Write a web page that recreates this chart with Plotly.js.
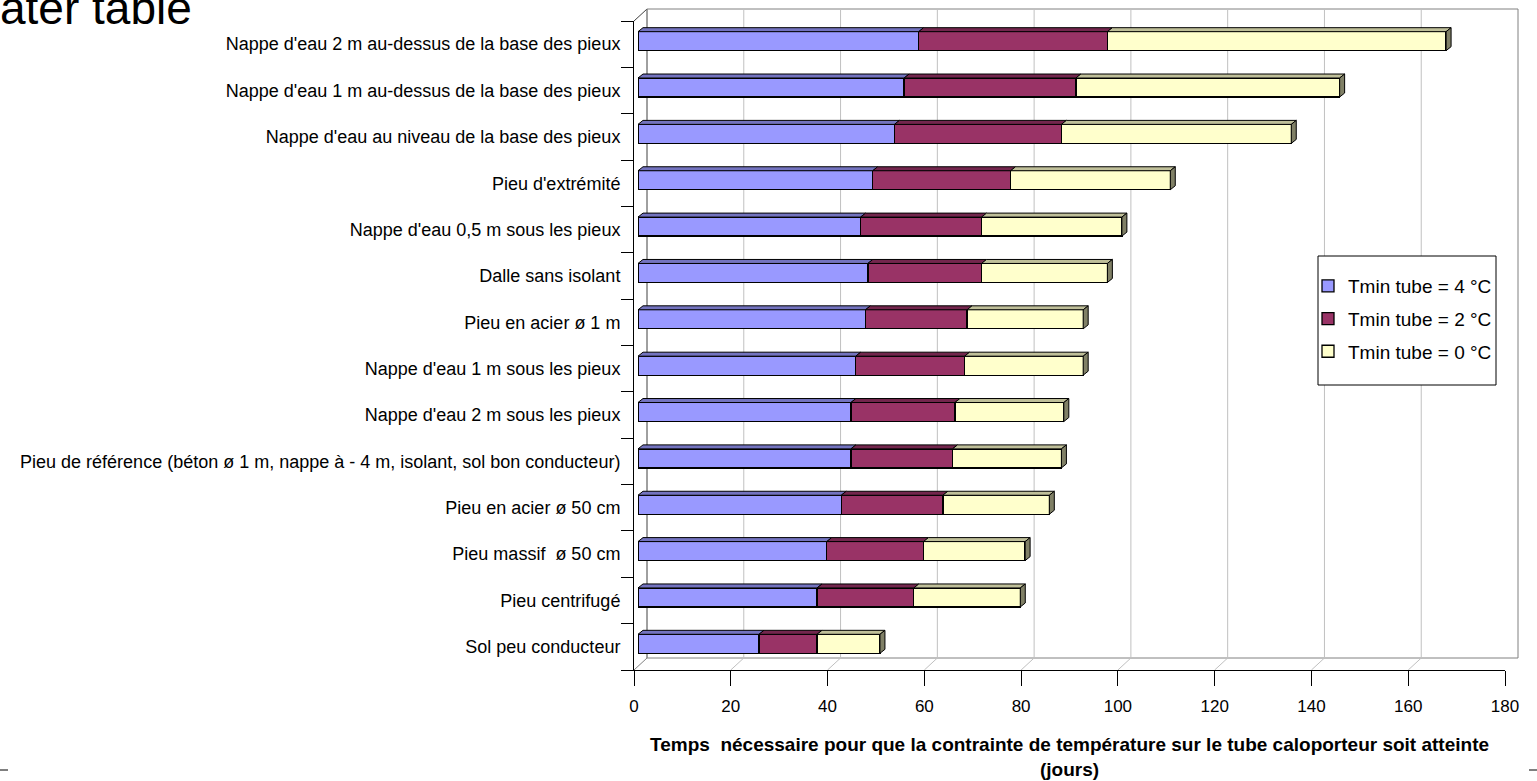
<!DOCTYPE html>
<html><head><meta charset="utf-8">
<script src="https://cdn.plot.ly/plotly-3.0.1.min.js"></script>
<style>html,body{margin:0;padding:0;background:#fff;overflow:hidden}</style>
</head><body><div id="chart" style="width:1537px;height:781px"></div>
<script>
// ---------- data ----------
const categories = [
  "Nappe d'eau 2 m au-dessus de la base des pieux",
  "Nappe d'eau 1 m au-dessus de la base des pieux",
  "Nappe d'eau au niveau de la base des pieux",
  "Pieu d'extrémité",
  "Nappe d'eau 0,5 m sous les pieux",
  "Dalle sans isolant",
  "Pieu en acier ø 1 m",
  "Nappe d'eau 1 m sous les pieux",
  "Nappe d'eau 2 m sous les pieux",
  "Pieu de référence (béton ø 1 m, nappe à - 4 m, isolant, sol bon conducteur)",
  "Pieu en acier ø 50 cm",
  "Pieu massif  ø 50 cm",
  "Pieu centrifugé",
  "Sol peu conducteur"
];
const seriesNames = ["Tmin tube = 4 °C", "Tmin tube = 2 °C", "Tmin tube = 0 °C"];
const seg4 = [58, 55, 53, 48.5, 46, 47.5, 47, 45, 44, 44, 42, 39, 37, 25];
const seg2 = [39, 35.5, 34.5, 28.5, 25, 23.5, 21, 22.5, 21.5, 21, 21, 20, 20, 12];
const seg0 = [70, 54.5, 47.5, 33, 29, 26, 24, 24.5, 22.5, 22.5, 22, 21, 22, 13];
const xTickVals = [0, 20, 40, 60, 80, 100, 120, 140, 160, 180];
const xTitle = "Temps  nécessaire pour que la contrainte de température sur le tube caloporteur soit atteinte<br>(jours)";
const pageTitle = "ater table";

// ---------- styles ----------
const FONT = 'Arial, "Liberation Sans", sans-serif';
const frontColors = ['#9999FF', '#993366', '#FFFFCC'];
const topColors = ['#7373BF', '#73264D', '#BFBF99'];
const sideColor = '#808066';

// ---------- geometry (pixels) ----------
const W = 1537, H = 781;
const fx = p => p / W, fy = p => (H - p) / H;
const FRONT = {x0: 634, x1: 1505, yTop: 21, yBot: 670};
const DEPTH = {dx: 13, dy: 12};
const BAR = {dx: 4, dy: 3, depthDx: 5, depthDy: 4, width: 0.41};
const LEGEND_BOX = {x0: 1318, x1: 1496, y0: 256, y1: 385};
const XMAX = 180;

const N = categories.length;
const idx = categories.map((c, i) => i);
const series = [seg4, seg2, seg0];

const traces = series.map((s, k) => ({
  type: 'bar', orientation: 'h', x: s, y: idx, name: seriesNames[k],
  legendgroup: 'g' + k, width: BAR.width,
  marker: {color: frontColors[k], line: {color: '#000', width: 1.3}},
  hoverinfo: 'skip', xaxis: 'x', yaxis: 'y'
}));

const ux = XMAX / (FRONT.x1 - FRONT.x0);
const uy = N / (FRONT.yBot - FRONT.yTop);
const dxU = BAR.depthDx * ux, dyU = BAR.depthDy * uy;

const shapes = [];
// back wall + frame
const gridLine = {color: '#c0c0c0', width: 1};
const frameLine = {color: '#808080', width: 1};
shapes.push({type: 'rect', xref: 'paper', yref: 'paper', layer: 'below',
  x0: fx(FRONT.x0 + DEPTH.dx), x1: fx(FRONT.x1 + DEPTH.dx),
  y0: fy(FRONT.yBot - DEPTH.dy), y1: fy(FRONT.yTop - DEPTH.dy), line: frameLine});
shapes.push({type: 'line', xref: 'paper', yref: 'paper', layer: 'below',
  x0: fx(FRONT.x0), y0: fy(FRONT.yTop), x1: fx(FRONT.x0 + DEPTH.dx), y1: fy(FRONT.yTop - DEPTH.dy), line: {color: '#404040', width: 1}});
xTickVals.forEach(v => {
  shapes.push({type: 'line', layer: 'below', xref: 'x2', xsizemode: 'pixel', xanchor: v,
    x0: DEPTH.dx, x1: DEPTH.dx, yref: 'paper',
    y0: fy(FRONT.yBot - DEPTH.dy), y1: fy(FRONT.yTop - DEPTH.dy),
    line: (v === 0 || v === XMAX) ? frameLine : gridLine});
  shapes.push({type: 'line', layer: 'below', xref: 'x2', xsizemode: 'pixel', xanchor: v,
    x0: 0, x1: DEPTH.dx, yref: 'paper', ysizemode: 'pixel', yanchor: fy(FRONT.yBot),
    y0: 0, y1: DEPTH.dy, line: (v === 0 || v === XMAX) ? frameLine : gridLine});
});
// legend frame (drawn over the back-wall gridlines)
shapes.push({type: 'rect', xref: 'paper', yref: 'paper', layer: 'below',
  x0: fx(LEGEND_BOX.x0), x1: fx(LEGEND_BOX.x1), y0: fy(LEGEND_BOX.y1), y1: fy(LEGEND_BOX.y0),
  fillcolor: '#fff', line: {color: '#000', width: 1}});

// 3D faces of bars
for (let i = 0; i < N; i++) {
  let acc = 0;
  const yT = i - BAR.width / 2, yB = i + BAR.width / 2;
  series.forEach((s, k) => {
    const a = acc, b = acc + s[i];
    acc = b;
    shapes.push({type: 'path', xref: 'x', yref: 'y', layer: 'above',
      path: `M${a},${yT} L${b},${yT} L${b + dxU},${yT - dyU} L${a + dxU},${yT - dyU} Z`,
      fillcolor: topColors[k], line: {color: '#000', width: 1}});
  });
  shapes.push({type: 'path', xref: 'x', yref: 'y', layer: 'above',
    path: `M${acc},${yT} L${acc + dxU},${yT - dyU} L${acc + dxU},${yB - dyU} L${acc},${yB} Z`,
    fillcolor: sideColor, line: {color: '#000', width: 1}});
}

// crop marks at the bottom corners
shapes.push({type: 'line', xref: 'paper', yref: 'paper', x0: 0, x1: fx(8), y0: fy(770), y1: fy(770), line: {color: '#000', width: 1}});
shapes.push({type: 'line', xref: 'paper', yref: 'paper', x0: fx(1529), x1: 1, y0: fy(770), y1: fy(770), line: {color: '#000', width: 1}});

const boundaries = idx.map(i => i - 0.5).concat([N - 0.5]);

const layout = {
  width: W, height: H,
  margin: {l: 0, r: 0, t: 0, b: 0, pad: 0},
  paper_bgcolor: '#fff', plot_bgcolor: 'rgba(0,0,0,0)',
  font: {family: FONT, color: '#000', size: 18},
  barmode: 'stack',
  showlegend: true,
  legend: {x: fx(1308), xanchor: 'left', y: fy(LEGEND_BOX.y0 + 11), yanchor: 'top',
    bgcolor: 'rgba(0,0,0,0)', borderwidth: 0,
    traceorder: 'grouped', tracegroupgap: 5, font: {size: 19, family: FONT}},
  xaxis: {domain: [fx(FRONT.x0 + BAR.dx), fx(FRONT.x1 + BAR.dx)], range: [0, XMAX],
    visible: false, anchor: 'y', fixedrange: true},
  yaxis: {domain: [fy(FRONT.yBot - BAR.dy), fy(FRONT.yTop - BAR.dy)], range: [N - 0.5, -0.5],
    visible: false, anchor: 'x', fixedrange: true},
  xaxis2: {domain: [fx(FRONT.x0), fx(FRONT.x1)], range: [0, XMAX], anchor: 'y2',
    tickmode: 'array', tickvals: xTickVals, ticktext: xTickVals.map(String),
    ticks: 'outside', ticklen: 15, tickcolor: '#000', tickwidth: 1, ticklabelstandoff: 6,
    showline: true, linecolor: '#000', linewidth: 1, showgrid: false, zeroline: false,
    tickfont: {size: 17, family: FONT}},
  yaxis2: {domain: [fy(FRONT.yBot), fy(FRONT.yTop)], range: [N - 0.5, -0.5], anchor: 'x2',
    tickmode: 'array', tickvals: idx, ticktext: categories,
    ticks: 'outside', ticklen: 9, tickcolor: 'rgba(0,0,0,0)',
    minor: {tickmode: 'array', tickvals: boundaries, ticks: 'outside', ticklen: 12, tickcolor: '#000', tickwidth: 1, showgrid: false},
    showline: true, linecolor: '#000', linewidth: 1, showgrid: false, zeroline: false,
    tickfont: {size: 18, family: FONT}},
  shapes: shapes,
  annotations: [
    {text: xTitle, xref: 'paper', yref: 'paper', x: fx(1069), y: fy(757), xanchor: 'center', yanchor: 'middle',
      showarrow: false, font: {size: 19, family: FONT, weight: 'bold', color: '#000'}},
    {text: pageTitle, xref: 'paper', yref: 'paper', x: fx(-2), y: fy(36), xanchor: 'left', yanchor: 'bottom',
      showarrow: false, font: {size: 46, family: FONT, color: '#000'}}
  ]
};

Plotly.newPlot('chart', traces, layout, {displayModeBar: false, staticPlot: true});
</script>
</body></html>
